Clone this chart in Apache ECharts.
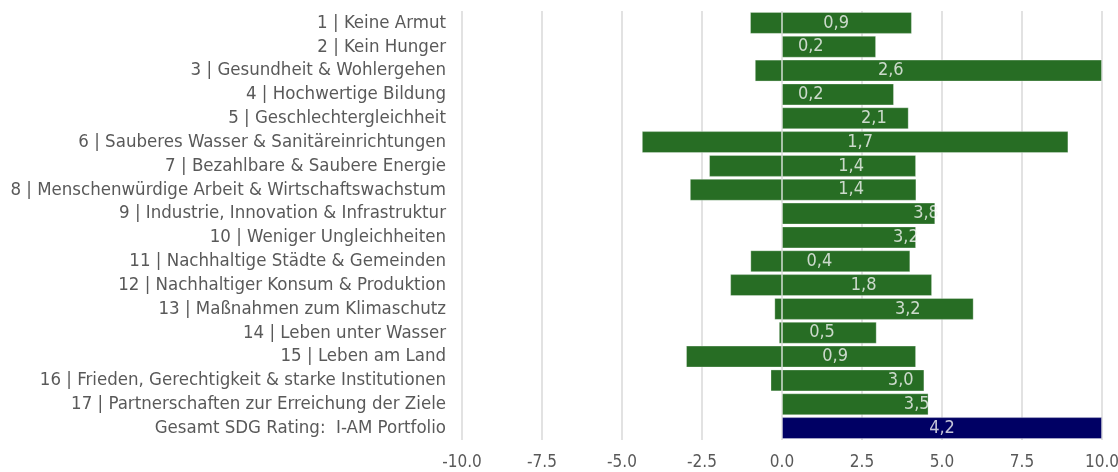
<!DOCTYPE html>
<html>
<head>
<meta charset="utf-8">
<script src="https://cdn.jsdelivr.net/npm/echarts@6/dist/echarts.min.js"></script>
<style>
  html, body { margin: 0; padding: 0; background: #fff; }
  #chart { width: 1118px; height: 472px; }
</style>
</head>
<body>
<div id="chart"></div>
<script>
// SDG Rating (Spannweite je Ziel und Portfolio-Wert)
var categories = [
  '1 | Keine Armut',
  '2 | Kein Hunger',
  '3 | Gesundheit & Wohlergehen',
  '4 | Hochwertige Bildung',
  '5 | Geschlechtergleichheit',
  '6 | Sauberes Wasser & Sanitäreinrichtungen',
  '7 | Bezahlbare & Saubere Energie',
  '8 | Menschenwürdige Arbeit & Wirtschaftswachstum',
  '9 | Industrie, Innovation & Infrastruktur',
  '10 | Weniger Ungleichheiten',
  '11 | Nachhaltige Städte & Gemeinden',
  '12 | Nachhaltiger Konsum & Produktion',
  '13 | Maßnahmen zum Klimaschutz',
  '14 | Leben unter Wasser',
  '15 | Leben am Land',
  '16 | Frieden, Gerechtigkeit & starke Institutionen',
  '17 | Partnerschaften zur Erreichung der Ziele',
  'Gesamt SDG Rating:  I-AM Portfolio'
]
var lowVals = [-1.0, 0, -0.85, 0, 0, -4.38, -2.28, -2.88, 0, 0, -0.99, -1.62, -0.24, -0.1, -3.0, -0.36, 0, 0]
var highVals = [4.06, 2.94, 10, 3.5, 3.96, 8.95, 4.19, 4.2, 4.79, 4.19, 4.01, 4.69, 5.99, 2.96, 4.19, 4.45, 4.58, 10]
var ratings = [0.9, 0.2, 2.6, 0.2, 2.1, 1.7, 1.4, 1.4, 3.8, 3.2, 0.4, 1.8, 3.2, 0.5, 0.9, 3.0, 3.5, 4.2]
var labelPos = [1.69, 0.9, 3.4, 0.9, 2.87, 2.44, 2.16, 2.16, 4.5, 3.87, 1.17, 2.55, 3.93, 1.25, 1.66, 3.71, 4.21, 5.0]
var xTicks = [-10, -7.5, -5, -2.5, 0, 2.5, 5, 7.5, 10]

var green = '#276d24'
var navy = '#000064'
var font = '"Liberation Sans Narrow", "DejaVu Sans Condensed", sans-serif'

var chart = echarts.init(document.getElementById('chart'))

function barColor(p) {
  return p.dataIndex === categories.length - 1 ? navy : green
}

chart.setOption({
  animation: false,
  grid: { left: 462, right: 16, top: 11, bottom: 32, outerBoundsMode: 'none', containLabel: false },
  xAxis: {
    type: 'value',
    min: xTicks[0],
    max: xTicks[xTicks.length - 1],
    interval: 2.5,
    axisLine: { show: false },
    axisTick: { show: false },
    splitLine: { lineStyle: { color: '#d9d9d9', width: 1.5 } },
    axisLabel: {
      color: '#595959',
      fontFamily: font,
      fontSize: 17,
      margin: 14,
      formatter: function(v) { return v.toFixed(1) }
    }
  },
  yAxis: {
    type: 'category',
    inverse: true,
    data: categories,
    axisLine: { show: false },
    axisTick: { show: false },
    axisLabel: { interval: 0, color: '#595959', fontFamily: font, fontSize: 18.5, margin: 16 }
  },
  series: [
    {
      type: 'bar',
      stack: 'range',
      barCategoryGap: '8%',
      data: lowVals,
      itemStyle: { color: barColor, borderColor: 'rgba(255,255,255,0.3)', borderWidth: 1 }
    },
    {
      type: 'bar',
      stack: 'range',
      data: highVals,
      itemStyle: { color: barColor, borderColor: 'rgba(255,255,255,0.3)', borderWidth: 1 }
    },
    {
      type: 'scatter',
      symbolSize: 0,
      data: labelPos.map(function(x, i) { return [x, categories[i]] }),
      label: {
        show: true,
        position: 'inside',
        color: '#f5f5f5',
        fontFamily: font,
        fontSize: 18,
        formatter: function(p) { return ratings[p.dataIndex].toFixed(1).replace('.', ',') }
      }
    }
  ]
})
</script>
</body>
</html>
